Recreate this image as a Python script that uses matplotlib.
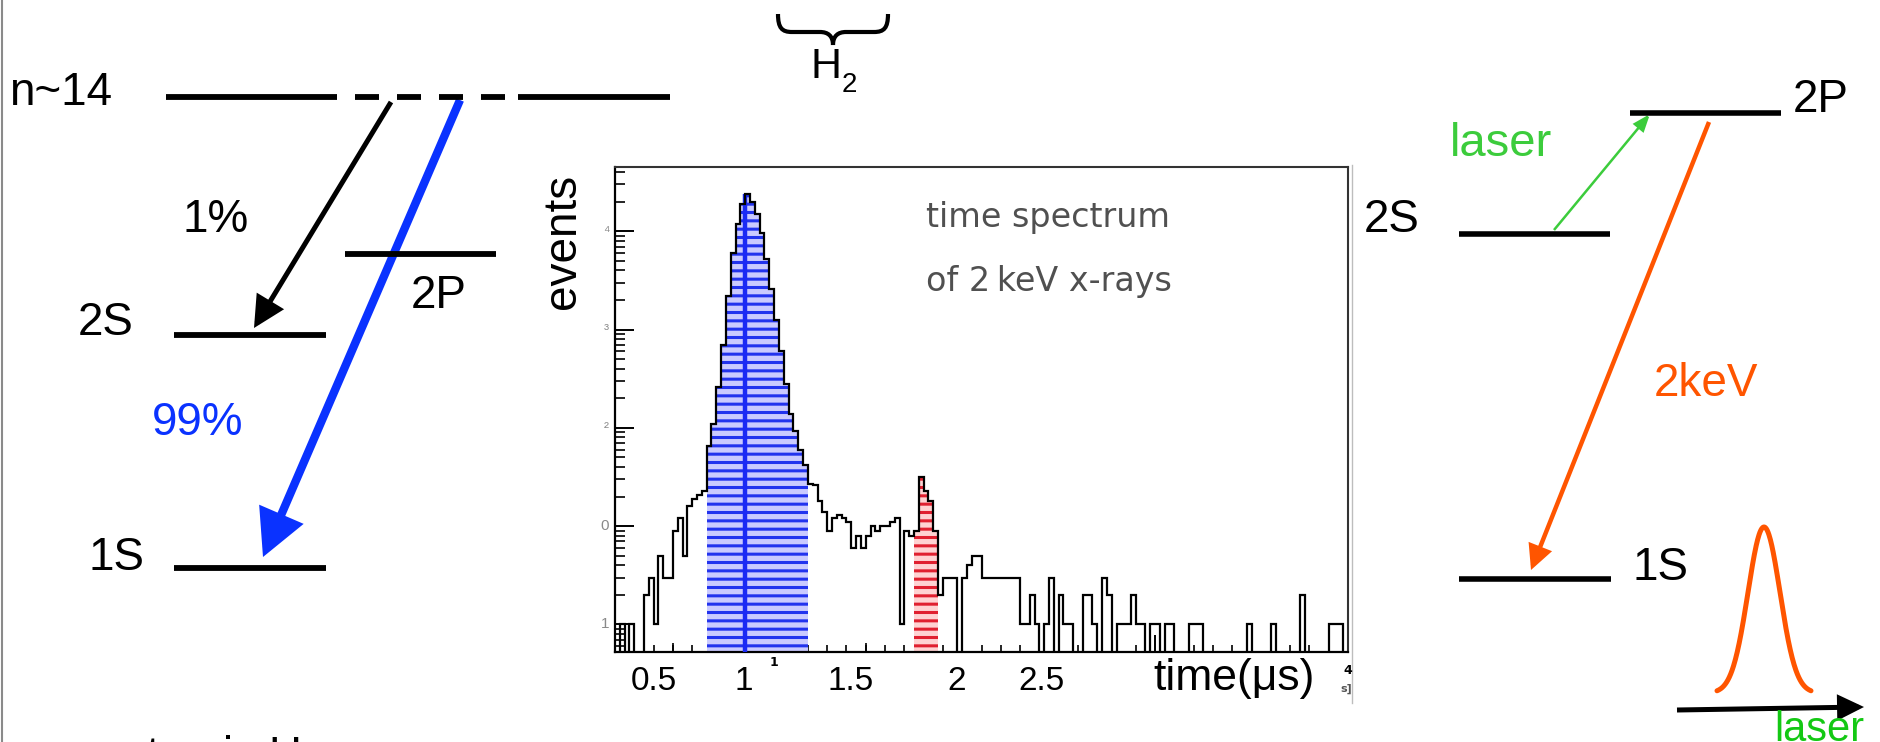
import numpy as np
import matplotlib
matplotlib.use("Agg")
import matplotlib.pyplot as plt
from matplotlib.patches import FancyArrowPatch, PathPatch
from matplotlib.path import Path
from matplotlib.ticker import FixedLocator, MultipleLocator, LogLocator, NullFormatter

plt.rcParams['font.family'] = ['Liberation Sans', 'DejaVu Sans']
plt.rcParams['hatch.linewidth'] = 2.2
plt.rcParams['lines.scale_dashes'] = False

# ---------------- data: time spectrum histogram ----------------
bin_start = 0.2
bin_width = 0.025
counts = [
    0, 1, 0, 1, 0, 0, 2, 3, 1, 5,                      # 0.200 - 0.425
    3, 3, 9, 12, 5, 16, 19, 21, 23,                    # 0.450 - 0.650
    66, 110, 260, 700, 2200, 6000, 12000, 19000, 24000, 20000,   # 0.675 - 0.900
    15000, 9500, 5200, 2600, 1250, 600, 280, 140, 92, 60, 42,    # 0.925 - 1.175
    27, 26, 18, 14, 9, 12, 13, 12, 11, 6,              # 1.200 - 1.425
    8, 6, 8, 10, 9, 10, 10, 11, 12, 1,                 # 1.450 - 1.675
    9, 8, 9, 32, 23, 18, 9, 2, 3, 3,                   # 1.700 - 1.925
    3, 0, 3, 4, 5, 5, 3, 3, 3, 3,                      # 1.950 - 2.175
    3, 3, 3, 3, 1, 1, 2, 1, 0, 1,                      # 2.200 - 2.425
    3, 0, 2, 1, 1, 0, 0, 2, 2, 1,                      # 2.450 - 2.675
    0, 3, 2, 0, 1, 1, 1, 2, 1, 1,                      # 2.700 - 2.925
    0, 1, 1, 0, 1, 1, 0, 0, 0, 1,                      # 2.950 - 3.175
    1, 1, 0, 0, 0, 0, 0, 0, 0, 0,                      # 3.200 - 3.425
    0, 1, 0, 0, 0, 0, 1, 0, 0, 0,                      # 3.450 - 3.675
    0, 0, 2, 0, 0, 0, 0, 0, 1, 1,                      # 3.700 - 3.925
    1, 0,                                              # 3.950 - 3.975
]
blue_bins = (19, 40)      # 2P -> 1S prompt peak (highlighted)
red_bins = (62, 67)       # laser-induced events (highlighted)
peak_line_x = 0.874
x_limits = (0.2, 4.0)
y_log_limits = (-0.28, 4.654)
slide_tick_pos = [0.40, 0.865, 1.42, 1.97, 2.41]
slide_tick_labels = ['0.5', '1', '1.5', '2', '2.5']

# ---------------- figure ----------------
W, H = 1880, 742
fig = plt.figure(figsize=(W / 100, H / 100), dpi=100)
ax0 = fig.add_axes([0, 0, 1, 1])
ax0.set_xlim(0, W)
ax0.set_ylim(H, 0)
ax0.axis('off')

BLACK = 'black'
BLUE = '#0a32ff'
ORANGE = '#ff5500'
GREEN = '#3ccc3c'
GREEN2 = '#14c814'
PT = 72 / 100.0   # points per pixel

# slide border
ax0.plot([2, 2], [0, H], color='#8a8a8a', lw=1.5)

# ---- left level scheme ----
LW_LEVEL = 4.2
# n~14 level: solid / dashed / solid
ax0.plot([166, 337], [97, 97], color=BLACK, lw=LW_LEVEL, solid_capstyle='butt')
ax0.plot([355, 507], [97, 97], color=BLACK, lw=LW_LEVEL,
         linestyle=(0, (24 * PT, 18 * PT)), dash_capstyle='butt')
ax0.plot([518, 670], [97, 97], color=BLACK, lw=LW_LEVEL, solid_capstyle='butt')

left_levels = {'2P': (345, 496, 254), '2S': (174, 326, 335), '1S': (174, 326, 568)}
for name, (x0, x1, y) in left_levels.items():
    ax0.plot([x0, x1], [y, y], color=BLACK, lw=LW_LEVEL, solid_capstyle='butt')

right_levels = {'2P': (1630, 1781, 113), '2S': (1459, 1610, 234), '1S': (1459, 1611, 579)}
for name, (x0, x1, y) in right_levels.items():
    ax0.plot([x0, x1], [y, y], color=BLACK, lw=4.0, solid_capstyle='butt')

def txt(x, y, s, size=33, color=BLACK, **kw):
    ax0.text(x, y, s, fontsize=size, color=color, ha='left', va='baseline', **kw)

txt(9, 105, 'n~14')
txt(183, 232, '1%')
txt(78, 335, '2S')
txt(411, 308, '2P')
txt(152, 435, '99%', color=BLUE)
txt(89, 570, '1S')
txt(121, 769, 'atomic H')

txt(1364, 232, '2S')
txt(1793, 112, '2P')
txt(1450, 156, 'laser', size=34, color=GREEN)
txt(1654, 396, '2keV', color=ORANGE)
txt(1632, 580, '1S')
txt(1774, 741, 'laser', size=30, color=GREEN2)

# H2 with brace
txt(810, 78, 'H', size=31)
txt(842, 92, '2', size=20)
brace = Path(
    [(778, 14), (778, 28), (782, 32), (792, 32), (820, 32),
     (828, 32), (833, 36), (833, 45),
     (833, 36), (838, 32), (846, 32), (874, 32),
     (884, 32), (888, 28), (888, 14)],
    [Path.MOVETO, Path.CURVE4, Path.CURVE4, Path.CURVE4, Path.LINETO,
     Path.CURVE4, Path.CURVE4, Path.CURVE4,
     Path.CURVE4, Path.CURVE4, Path.CURVE4, Path.LINETO,
     Path.CURVE4, Path.CURVE4, Path.CURVE4])
ax0.add_patch(PathPatch(brace, facecolor='none', edgecolor=BLACK, lw=3.0))

def arrow(p0, p1, color, lw, hl, hw):
    a = FancyArrowPatch(p0, p1, arrowstyle=f'-|>,head_length={hl},head_width={hw}',
                        mutation_scale=1, color=color, lw=lw,
                        shrinkA=0, shrinkB=0, joinstyle='miter', capstyle='butt')
    ax0.add_patch(a)

arrow((391, 102), (254, 328), BLACK, 3.6, 17, 8.6)
arrow((460, 100), (263, 557), BLUE, 6.0, 24, 12.5)
arrow((1554, 230), (1650, 114), GREEN, 1.8, 10, 3.8)
arrow((1709, 122), (1531, 570), ORANGE, 3.2, 13, 6.5)
arrow((1677, 710), (1864, 707), BLACK, 3.6, 13.5, 6.6)

# laser pulse profile
pulse_center, pulse_sigma, pulse_half_range = 1764, 16.0, 47
pulse_base_y, pulse_height = 693, 166
px = np.linspace(pulse_center - pulse_half_range, pulse_center + pulse_half_range, 200)
py = pulse_base_y - pulse_height * np.exp(-0.5 * ((px - pulse_center) / pulse_sigma) ** 2)
ax0.plot(px, py, color=ORANGE, lw=3.6, solid_capstyle='round')

# border of the pasted plot picture
ax0.plot([1352, 1352], [165, 703], color='#bdbdbd', lw=1.0)

# ---------------- histogram axes ----------------
hl, ht, hr, hb = 615, 167, 1348, 652
axh = fig.add_axes([hl / W, (H - hb) / H, (hr - hl) / W, (hb - ht) / H])
axh.set_facecolor('white')

vals = np.array(counts, dtype=float)
edges = bin_start + bin_width * np.arange(len(vals) + 1)
draw_vals = np.where(vals > 0, vals, 1e-3)

b0, b1 = blue_bins
axh.stairs(draw_vals[b0:b1], edges[b0:b1 + 1], baseline=1e-3, fill=True,
           facecolor='#cacaff', edgecolor='#2233ee', hatch='--', linewidth=0, zorder=2)
r0, r1 = red_bins
axh.stairs(draw_vals[r0:r1], edges[r0:r1 + 1], baseline=1e-3, fill=True,
           facecolor='#ffd2d2', edgecolor='#e02030', hatch='--', linewidth=0, zorder=2)
axh.vlines(peak_line_x, 1e-3, vals.max(), color='#1a2af5', lw=3.2, zorder=3)
axh.stairs(draw_vals, edges, baseline=1e-3, color=BLACK, lw=1.6, zorder=4)

axh.set_yscale('log')
axh.set_xlim(*x_limits)
axh.set_ylim(10 ** y_log_limits[0], 10 ** y_log_limits[1])
axh.xaxis.set_major_locator(FixedLocator([1, 2, 3, 4]))
axh.xaxis.set_minor_locator(MultipleLocator(0.1))
axh.yaxis.set_major_locator(LogLocator(base=10, numticks=12))
axh.yaxis.set_minor_locator(LogLocator(base=10, subs=np.arange(2, 10), numticks=12))
axh.yaxis.set_minor_formatter(NullFormatter())
axh.tick_params(which='both', direction='in', top=False, right=False,
                labelbottom=False, labelleft=False, color=BLACK)
axh.tick_params(axis='y', which='major', length=14, width=1.4)
axh.tick_params(axis='y', which='minor', length=7, width=1.2)
axh.tick_params(axis='x', which='major', length=12, width=1.4)
axh.tick_params(axis='x', which='minor', length=5, width=1.2)
axh.vlines([0.5, 1.5, 2.5, 3.5], 0, 0.018, transform=axh.get_xaxis_transform(),
           color=BLACK, lw=1.2, zorder=5)
for side in ['left', 'bottom']:
    axh.spines[side].set_linewidth(1.6)
    axh.spines[side].set_color(BLACK)
for side in ['top', 'right']:
    axh.spines[side].set_linewidth(1.5)
    axh.spines[side].set_color('#333333')

# faint remains of the original y labels
for k, lab in enumerate(['1', '0', '\u00b2', '\u00b3', '\u2074']):
    axh.text(-0.008, 10 ** k, lab, transform=axh.get_yaxis_transform(),
             ha='right', va='center', fontsize=11, color='#8a8a8a')

# text of the original plot (drawn in slide pixel coordinates, above the plot area)
axh.text(926, 227, 'time spectrum', fontsize=24, color='#505050', transform=ax0.transData,
         family='DejaVu Sans', va='baseline', ha='left', zorder=6)
axh.text(926, 291, 'of 2\u2009keV x-rays', fontsize=24, color='#505050', transform=ax0.transData,
         family='DejaVu Sans', va='baseline', ha='left', zorder=6)

# slide tick labels under the histogram
for pos, lab in zip(slide_tick_pos, slide_tick_labels):
    axh.text(pos, -0.078, lab, transform=axh.get_xaxis_transform(),
             ha='center', va='baseline', fontsize=24, color=BLACK)

txt(1153, 690, 'time(\u03bcs)', size=32)
ax0.text(563, 241, 'events', fontsize=33, rotation=90, ha='center', va='center')
ax0.text(774, 662, '1', fontsize=9, fontweight='bold', ha='center', va='center', family='DejaVu Sans')
ax0.text(1348, 670, '4', fontsize=9, fontweight='bold', ha='center', va='center', family='DejaVu Sans')
ax0.text(1346, 689, 's]', fontsize=8, fontweight='bold', ha='center', va='center',
         family='DejaVu Sans', color='#555555')

fig.savefig('out.png', dpi=100)
